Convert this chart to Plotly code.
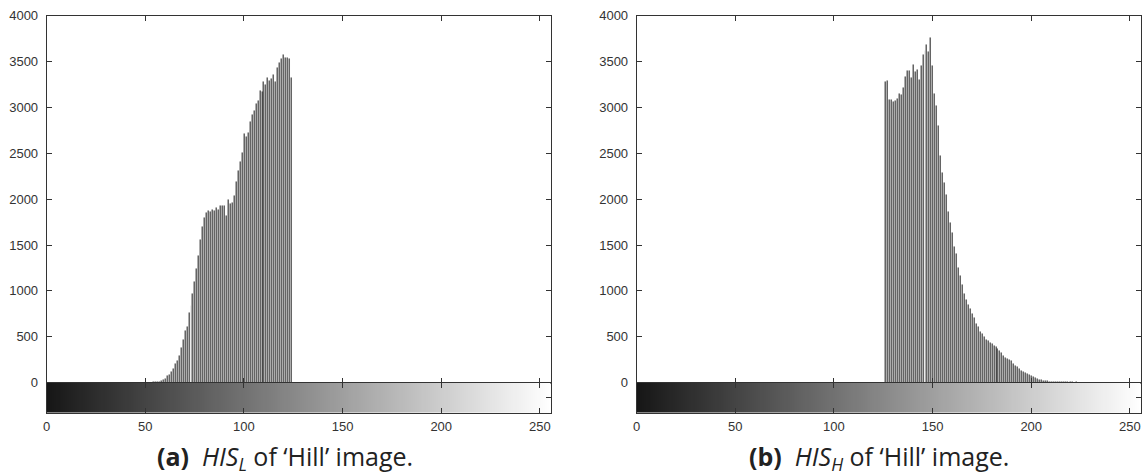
import plotly.graph_objects as go

# ---------------- data ----------------
levels_L = list(range(53, 125))
counts_L = [5, 8, 10, 12, 15, 25, 35, 45, 75, 90, 117, 150, 212, 242, 300, 381, 469, 571, 615, 762,
            846, 967, 1103, 1249, 1385, 1560, 1707, 1799, 1850, 1872, 1861, 1890, 1879, 1908, 1890, 1934,
            1927, 1935, 1820, 1993, 1956, 1967, 2044, 2190, 2311, 2410, 2505, 2714, 2685, 2722, 2842,
            2923, 2960, 3044, 3070, 3179, 3172, 3282, 3253, 3326, 3289, 3318, 3355, 3282, 3436, 3484,
            3530, 3575, 3538, 3546, 3531, 3330]

levels_H = list(range(126, 227))
counts_H = [3285, 3290, 3080, 3080, 3065, 3075, 3095, 3150, 3140, 3215, 3335, 3400, 3405, 3325, 3470,
            3390, 3410, 3300, 3460, 3575, 3620, 3680, 3605, 3765, 3460, 3155, 3025, 2800, 2470, 2290,
            2180, 2055, 1870, 1740, 1640, 1480, 1410, 1250, 1165, 1065, 975, 905, 855, 805, 755, 710,
            645, 615, 555, 540, 500, 470, 455, 440, 425, 410, 390, 370, 355, 330, 300, 275, 262, 258,
            240, 210, 190, 180, 150, 132, 125, 112, 95, 84, 77, 66, 59, 51, 40, 32, 28, 22, 20, 17,
            15, 15, 13, 14, 12, 11, 12, 10, 9, 10, 8, 9, 7, 8, 6, 5, 4]

gray_levels = list(range(0, 256))
y_ticks = [0, 500, 1000, 1500, 2000, 2500, 3000, 3500, 4000]
x_ticks = [0, 50, 100, 150, 200, 250]
captions = ["<b>(a)</b>  <i>HIS<sub>L</sub></i> of ‘Hill’ image.",
            "<b>(b)</b>  <i>HIS<sub>H</sub></i> of ‘Hill’ image."]

# ---------------- layout geometry ----------------
W, H = 1143, 476
def px(x):
    return x / W
def py(y):
    return 1 - y / H

dom_x = [[px(46.7), px(550.7)], [px(636.7), px(1140.7)]]
dom_main = [py(382.7), py(15.5)]
dom_cbar = [py(412.7), py(382.7)]
cap_x = [285, 879]

fig = go.Figure()
tick_font = dict(family="Liberation Sans, Arial, sans-serif", size=13, color="#333")
line_col = "#333"
bar_col = "#1e1e1e"

for i, (lev, cnt) in enumerate([(levels_L, counts_L), (levels_H, counts_H)]):
    n_main = 2 * i + 1
    n_cb = 2 * i + 2
    xa_main = "x" if n_main == 1 else f"x{n_main}"
    ya_main = "y" if n_main == 1 else f"y{n_main}"
    xa_cb = f"x{n_cb}"
    ya_cb = f"y{n_cb}"

    fig.add_trace(go.Bar(x=lev, y=cnt, width=0.5,
                         marker=dict(color=bar_col, line=dict(width=0.05, color=bar_col)),
                         xaxis=xa_main, yaxis=ya_main, showlegend=False, hoverinfo="x+y"))
    fig.add_trace(go.Heatmap(x=gray_levels, y=[0], z=[gray_levels],
                             colorscale=[[0, "#161616"], [1, "#ffffff"]], showscale=False,
                             xaxis=xa_cb, yaxis=ya_cb, hoverinfo="skip"))

    k_main = "" if n_main == 1 else str(n_main)
    fig.update_layout(**{
        f"xaxis{k_main}": dict(domain=dom_x[i], range=[0, 255.5], anchor=ya_main, automargin=False,
                               showticklabels=False, tickvals=x_ticks, ticks="inside", ticklen=5,
                               tickcolor=line_col, mirror="ticks", showline=True, linecolor=line_col,
                               linewidth=1, showgrid=False, zeroline=False),
        f"yaxis{k_main}": dict(domain=dom_main, range=[0, 4000], anchor=xa_main, automargin=False,
                               tickvals=y_ticks, ticks="inside", ticklen=5, tickcolor=line_col,
                               mirror="ticks", showline=True, linecolor=line_col, linewidth=1,
                               showgrid=False, zeroline=False, tickfont=tick_font,
                               ticklabelstandoff=5),
        f"xaxis{n_cb}": dict(domain=dom_x[i], range=[0, 255.5], anchor=ya_cb, automargin=False,
                             tickvals=x_ticks, ticks="inside", ticklen=5, tickcolor=line_col,
                             mirror="ticks", showline=True, linecolor=line_col, linewidth=1,
                             showgrid=False, zeroline=False, tickfont=tick_font,
                             ticklabelstandoff=2),
        f"yaxis{n_cb}": dict(domain=dom_cbar, range=[-0.5, 0.5], anchor=xa_cb, side="right",
                             automargin=False,
                             tickvals=[0], showticklabels=False, ticks="inside", ticklen=5,
                             tickcolor=line_col, mirror=True, showline=True, linecolor=line_col,
                             linewidth=1, showgrid=False, zeroline=False),
    })

    fig.add_annotation(text=captions[i], xref="paper", yref="paper", x=px(cap_x[i]), y=py(457),
                       xanchor="center", yanchor="middle", showarrow=False,
                       font=dict(family="Open Sans, sans-serif", size=25, color="#222"))

fig.update_layout(width=W, height=H, margin=dict(l=0, r=0, t=0, b=0, autoexpand=False),
                  paper_bgcolor="white", plot_bgcolor="white", bargap=0)

# remove the browser's default page margin so the figure sits at the window's origin
fig.write_html("out.html", config={"displayModeBar": False},
               post_script="document.body.style.margin='0';")
